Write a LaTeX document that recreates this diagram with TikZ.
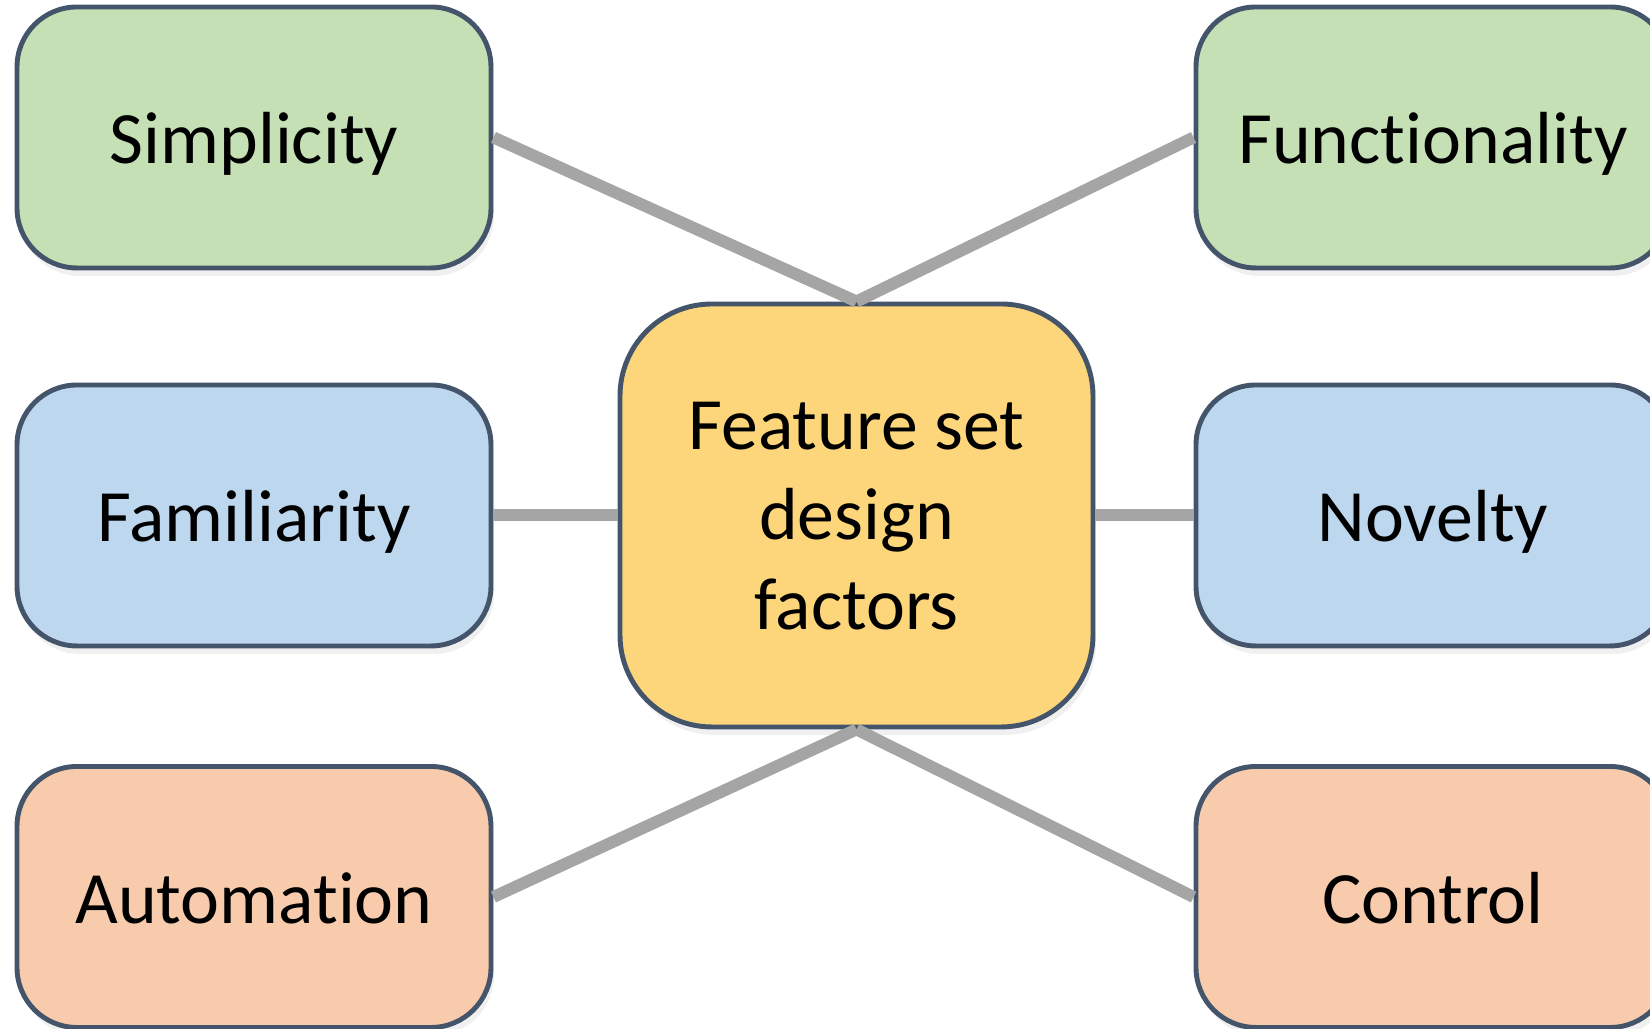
\documentclass[tikz,border=0pt]{standalone}
\usepackage{fontspec}
\setmainfont[Ligatures=NoCommon]{Carlito}
\usetikzlibrary{positioning, shadows}
\definecolor{factgreen}{RGB}{197,224,180}
\definecolor{factblue}{RGB}{189,215,238}
\definecolor{factpeach}{RGB}{248,203,173}
\definecolor{hubyellow}{RGB}{253,213,122}
\definecolor{edgeslate}{RGB}{68,84,106}
\definecolor{spokegray}{RGB}{165,165,165}
\tikzset{
  basebox/.style={draw=edgeslate, fill=#1, line width=1.4pt, inner sep=0pt,
    font=\fontsize{21}{25.5}\selectfont,
    drop shadow={opacity=0.12, shadow xshift=0.3mm, shadow yshift=-0.8mm}},
  factor/.style={basebox=#1, rounded corners=0.6cm,
    minimum width=4.74cm, minimum height=2.61cm,
    text height=0.73cm, text depth=0.2cm},
  hub/.style={basebox=hubyellow, rounded corners=0.92cm, minimum width=4.73cm,
    minimum height=4.23cm},
  spoke/.style={draw=spokegray, line width=3.4pt},
}

\begin{document}
\begin{tikzpicture}[x=1cm, y=1cm]
\useasboundingbox (0, 0) rectangle (16.5, 10.29);

% ============================================================ hub
\node[hub] (hub) at (8.565, 5.135)
  {\raisebox{-0.06cm}[\height][\depth]{\begin{tabular}{c}Feature set\\design\\factors\end{tabular}}};

% ============================================================ left column
\node[factor=factgreen] (simp) at (2.54, 8.915) {Simplicity};
\node[factor=factblue]  (fami) at (2.54, 5.135) {Familiarity};
\node[factor=factpeach] (auto) at (2.54, 1.32)  {Automation};

% ============================================================ right column
\node[factor=factgreen] (func) at (14.33, 8.915) {Functionality};
\node[factor=factblue]  (nove) at (14.33, 5.135) {Novelty};
\node[factor=factpeach] (ctrl) at (14.33, 1.32)  {Control};

% ============================================================ spokes
\draw[spoke] (simp.east) -- (hub.north);
\draw[spoke] (func.west) -- (hub.north);
\draw[spoke] (fami.east) -- (hub.west);
\draw[spoke] (nove.west) -- (hub.east);
\draw[spoke] (auto.east) -- (hub.south);
\draw[spoke] (ctrl.west) -- (hub.south);

\end{tikzpicture}
\end{document}
